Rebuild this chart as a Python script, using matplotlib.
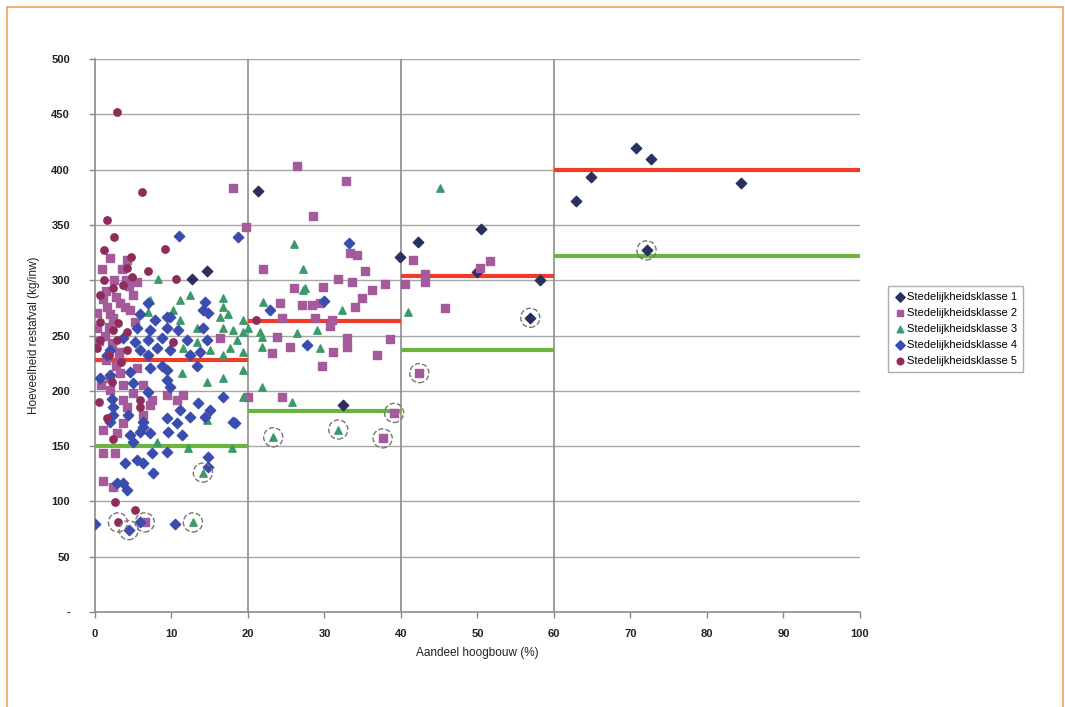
import matplotlib
matplotlib.use("Agg")
import matplotlib.pyplot as plt
from matplotlib.patches import Rectangle
from matplotlib.ticker import FuncFormatter

plt.rcParams['font.family'] = ['Liberation Sans', 'DejaVu Sans']

series_names = ["Stedelijkheidsklasse 1", "Stedelijkheidsklasse 2", "Stedelijkheidsklasse 3",
                "Stedelijkheidsklasse 4", "Stedelijkheidsklasse 5"]

x1 = [72.7, 70.7, 64.8, 62.9, 84.4, 72.1, 50.5, 42.2, 39.9, 49.9, 58.2, 56.9, 21.3, 32.4, 12.7, 14.6]
y1 = [410, 420, 393, 372, 388, 327, 346, 335, 321, 307, 300, 266, 381, 187, 301, 308]

x2 = [18.0, 19.8, 5.0, 1.6, 3.3, 0.3, 2.0, 4.6, 2.4, 0.3, 16.3, 3.3, 5.5, 3.7, 6.3, 2.0, 5.0, 3.7,
      7.5, 9.4, 10.7, 11.5, 4.2, 7.2, 6.3, 3.7, 1.0, 2.9, 1.0, 2.6, 1.0, 2.4, 6.5,
      1.5, 2.5, 3.5, 4.2, 1.0, 2.8, 3.9, 5.2, 1.8, 4.5,
      0.5, 1.3, 2.2, 3.1, 1.5, 2.7, 0.8, 1.9, 3.2, 4.0, 0.9, 2.0, 5.5,
      26.4, 32.8, 28.5, 22.0, 33.3, 34.2, 35.3, 37.9, 36.2, 34.9, 31.8, 33.6, 29.8, 26.0, 24.2,
      27.0, 29.4, 34.0, 25.5, 23.1, 23.8, 33.0, 33.0, 31.1, 36.9, 38.6, 29.7, 24.4, 28.8, 31.0,
      28.4, 30.7, 20.0, 24.4, 37.6, 39.1,
      41.6, 51.6, 50.3, 43.1, 43.1, 40.5, 45.8, 42.4]
y2 = [383, 348, 287, 276, 279, 270, 269, 273, 266, 257, 248, 216, 221, 205, 205, 201, 198, 192,
      192, 196, 192, 196, 185, 187, 178, 171, 165, 162, 144, 144, 118, 113, 81,
      290, 300, 310, 318, 283, 285, 276, 262, 258, 295,
      245, 250, 243, 235, 228, 222, 205, 212, 228, 300, 310, 320, 298,
      403, 390, 358, 310, 325, 323, 308, 297, 291, 284, 301, 298, 294, 293, 279,
      278, 279, 276, 240, 234, 249, 248, 240, 235, 232, 247, 222, 266, 266, 264,
      278, 259, 194, 194, 157, 180,
      318, 317, 311, 306, 298, 297, 275, 216]

x3 = [8.2, 11.1, 12.4, 16.7, 16.7, 6.9, 10.2, 11.1, 16.3, 17.4, 19.3, 13.3, 16.7, 18.0, 19.3,
      13.3, 18.6, 11.5, 15.0, 17.6, 19.3, 16.7, 11.4, 14.6, 16.7, 19.3, 19.3, 14.6, 8.1, 12.2,
      17.9, 7.2,
      26.0, 27.2, 27.2, 22.0, 32.3, 29.4, 21.8, 26.4, 21.8, 29.0, 27.5, 21.8, 25.8, 20.0, 21.6,
      45.1, 40.9,
      14.1, 12.8, 23.3, 31.8]
y3 = [301, 282, 287, 284, 276, 271, 273, 264, 267, 269, 264, 257, 257, 255, 253,
      244, 246, 239, 237, 239, 235, 232, 216, 208, 212, 219, 194, 174, 154, 148,
      148, 282,
      333, 310, 291, 280, 273, 239, 240, 252, 249, 255, 293, 203, 190, 257, 253,
      383, 271,
      126, 81, 158, 165]

x4 = [11.0, 18.7, 14.4, 5.9, 9.4, 14.1, 14.8, 7.8, 5.5, 7.2, 9.4, 10.8, 14.1, 3.7, 5.2, 6.9, 8.8,
      12.0, 14.6, 2.0, 5.9, 8.1, 9.8, 13.7, 1.6, 6.9, 12.4, 0.7, 2.0, 4.6, 7.2, 8.8, 9.4, 13.3,
      5.0, 9.4, 9.8, 6.9, 2.2, 13.5, 16.7, 2.4, 11.1, 15.0, 2.4, 4.3, 9.4, 12.4, 14.4, 2.0, 6.3,
      10.7, 18.0, 6.3, 9.5, 11.4, 18.3, 4.6, 5.9, 7.2, 5.0, 3.9, 5.5, 6.3, 7.5, 9.4, 7.6, 2.9,
      3.7, 4.2, 14.8, 14.8, 0.0, 5.9, 10.5, 4.4, 6.9, 9.8,
      33.2, 22.9, 30.0, 27.7]
y4 = [340, 339, 280, 269, 267, 273, 270, 264, 257, 255, 257, 255, 257, 248, 244, 246, 248,
      246, 246, 237, 237, 239, 237, 235, 232, 232, 232, 212, 214, 217, 221, 222, 219, 222,
      207, 210, 203, 199, 193, 189, 194, 185, 183, 183, 178, 178, 175, 176, 176, 172, 172,
      171, 172, 167, 163, 160, 171, 160, 163, 162, 154, 135, 137, 135, 144, 145, 126, 117,
      117, 110, 140, 131, 80, 81, 80, 74, 279, 267,
      334, 273, 281, 241]

x5 = [2.9, 6.1, 1.6, 2.5, 1.2, 9.2, 4.7, 6.9, 1.2, 10.6, 4.2, 4.8, 2.4, 3.7, 0.7, 0.7, 3.0, 2.4,
      4.2, 0.7, 2.9, 0.3, 4.2, 10.2, 5.9, 5.9, 2.4, 2.6, 5.2, 3.0, 21.0,
      1.8, 3.4, 2.2, 0.5, 1.6]
y5 = [452, 380, 354, 339, 327, 328, 321, 308, 300, 301, 311, 303, 293, 296, 287, 262, 261, 255,
      253, 246, 246, 239, 237, 244, 192, 185, 156, 99, 92, 81, 264,
      232, 226, 208, 190, 175]

# class averages (red) and lower bounds (green) per height band
band_start = [0, 20, 40, 60]
band_end = [20, 40, 60, 100]
red_level = [228, 263, 304, 400]
green_level = [150, 182, 237, 322]

outlier_x = [3.0, 6.5, 4.4, 12.8, 14.1, 23.3, 31.8, 37.6, 39.1, 42.4, 56.9, 72.1]
outlier_y = [81, 81, 74, 81, 126, 158, 165, 157, 180, 216, 266, 327]

x_ticks = [0, 10, 20, 30, 40, 50, 60, 70, 80, 90, 100]
y_ticks = [0, 50, 100, 150, 200, 250, 300, 350, 400, 450, 500]

fig = plt.figure(figsize=(10.65, 7.07), dpi=100)
fig.patches.append(Rectangle((0.007, -0.01), 0.991, 1.0, transform=fig.transFigure,
                             fill=False, edgecolor='#F0A050', linewidth=1.2))
ax = fig.add_axes([0.0892, 0.1344, 0.7183, 0.7821])

# grid
for yt in y_ticks[1:]:
    ax.axhline(yt, color='#A6A6A6', linewidth=1.0, zorder=0)
for xv in [20, 40, 60]:
    ax.axvline(xv, color='#8C8C8C', linewidth=1.2, zorder=0)

# band lines
for xs, xe, r, g in zip(band_start, band_end, red_level, green_level):
    ax.plot([xs, xe], [r, r], color='#EE3B2A', linewidth=3.0, zorder=3, solid_capstyle='butt')
    ax.plot([xs, xe], [g, g], color='#6DB33F', linewidth=3.0, zorder=3, solid_capstyle='butt')

ms = 28
ax.scatter(x1, y1, marker='D', s=ms, color='#27305F', label=series_names[0], zorder=4)
ax.scatter(x2, y2, marker='s', s=ms, color='#A55A9C', label=series_names[1], zorder=4)
ax.scatter(x3, y3, marker='^', s=ms, color='#3C9A6A', label=series_names[2], zorder=4)
ax.scatter(x4, y4, marker='D', s=ms, color='#3A4DAE', label=series_names[3], zorder=4)
ax.scatter(x5, y5, marker='o', s=ms, color='#8E2D5C', label=series_names[4], zorder=4)

ax.scatter(outlier_x, outlier_y, marker='o', s=190, facecolors='none', edgecolors='#777777',
           linewidths=1.0, linestyles='--', zorder=5)

ax.set_xlim(0, 100)
ax.set_ylim(0, 500)
ax.set_xticks(x_ticks)
ax.set_yticks(y_ticks)
ax.yaxis.set_major_formatter(FuncFormatter(lambda v, p: '-' if v == 0 else f'{int(v)}'))
ax.tick_params(axis='both', labelsize=8, length=4, color='#888888', width=1)
for lab in ax.get_yticklabels() + ax.get_xticklabels():
    lab.set_fontweight('bold')
    lab.set_color('#222222')
ax.tick_params(axis='y', pad=14)
ax.tick_params(axis='x', pad=8)

for s in ['top', 'right']:
    ax.spines[s].set_visible(False)
for s in ['left', 'bottom']:
    ax.spines[s].set_color('#8C8C8C')
    ax.spines[s].set_linewidth(1.2)

ax.set_xlabel('Aandeel hoogbouw (%)', fontsize=8.5, labelpad=6, color='#222222')
ax.set_ylabel('Hoeveelheid restafval (kg/inw)', fontsize=8.5, labelpad=8, color='#222222')

leg = fig.legend(loc='upper left', bbox_to_anchor=(0.829, 0.603), fontsize=8,
                 frameon=True, fancybox=False, edgecolor='#999999', handletextpad=0.2,
                 borderpad=0.5, labelspacing=0.55, handlelength=1.0, markerscale=0.9)
leg.get_frame().set_linewidth(1.0)

fig.savefig('out.png', dpi=100)
